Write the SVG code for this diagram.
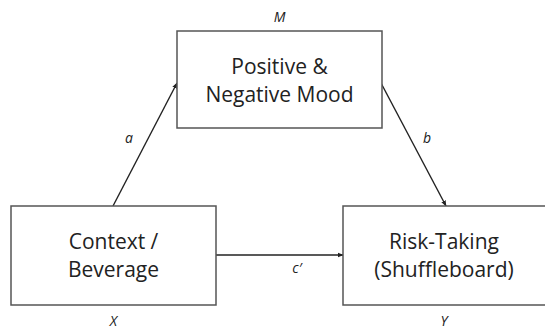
<svg xmlns="http://www.w3.org/2000/svg" width="545" height="331" viewBox="0 0 545 331">
<style>
.box{fill:#fff;stroke:#555;stroke-width:1.5}
.t{font-family:"Open Sans","Liberation Sans",sans-serif;font-size:21px;fill:#222;text-anchor:middle}
.l{font-family:"Open Sans","Liberation Sans",sans-serif;font-size:14px;font-style:italic;fill:#222;text-anchor:middle}
.c{stroke:#222;stroke-width:1.4;fill:none;marker-end:url(#ah)}
</style>
<defs>
<marker id="ah" viewBox="0 0 10 10" refX="9" refY="5" markerWidth="6" markerHeight="6" orient="auto" markerUnits="userSpaceOnUse">
<path d="M0,1 L10,5 L0,9 z" fill="#222"/>
</marker>
</defs>
<rect width="545" height="331" fill="#fff"/>
<g id="connectors">
<line class="c" x1="113" y1="206" x2="177" y2="83"/>
<line class="c" x1="381" y1="83" x2="446" y2="206"/>
<line class="c" x1="216" y1="255" x2="343" y2="255"/>
<text class="l" x="129" y="143">a</text>
<text class="l" x="427" y="143">b</text>
<text class="l" x="297" y="273">c′</text>
</g>
<g id="M">
<rect class="box" x="177" y="31" width="205" height="97"/>
<text class="t" x="279.5" y="74">Positive &amp;</text>
<text class="t" x="279.5" y="102">Negative Mood</text>
<text class="l" x="279.5" y="22">M</text>
</g>
<g id="X">
<rect class="box" x="11" y="206" width="205" height="99"/>
<text class="t" x="113.5" y="249">Context /</text>
<text class="t" x="113.5" y="277">Beverage</text>
<text class="l" x="113.5" y="326">X</text>
</g>
<g id="Y">
<rect class="box" x="343" y="206" width="205" height="99"/>
<text class="t" x="444" y="249">Risk-Taking</text>
<text class="t" x="444" y="277">(Shuffleboard)</text>
<text class="l" x="444" y="326">Y</text>
</g>
</svg>
